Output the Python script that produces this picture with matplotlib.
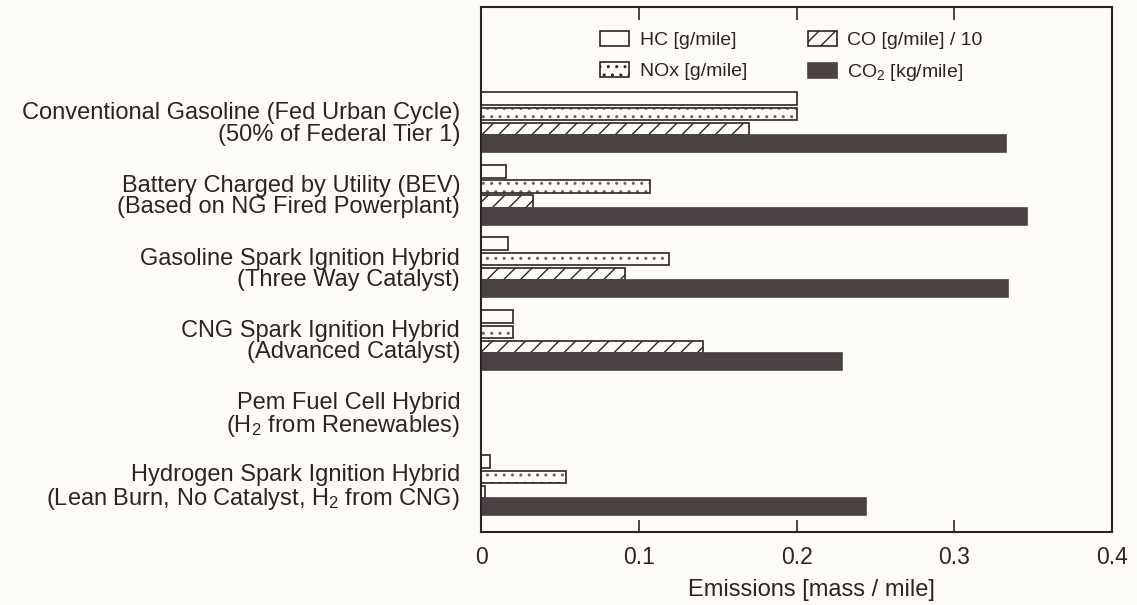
import matplotlib
matplotlib.use("Agg")
import matplotlib.pyplot as plt
from matplotlib.patches import Patch

plt.rcParams['font.family'] = ['Liberation Sans', 'DejaVu Sans']
plt.rcParams['mathtext.fontset'] = 'custom'
plt.rcParams['mathtext.rm'] = 'Liberation Sans'
plt.rcParams['mathtext.it'] = 'Liberation Sans'
plt.rcParams['mathtext.default'] = 'regular'
plt.rcParams['hatch.linewidth'] = 1.0

categories = [
    "Conventional Gasoline (Fed Urban Cycle)\n(50% of Federal Tier 1)",
    "Battery Charged by Utility (BEV)\n(Based on NG Fired Powerplant)",
    "Gasoline Spark Ignition Hybrid\n(Three Way Catalyst)",
    "CNG Spark Ignition Hybrid\n(Advanced Catalyst)",
    "Pem Fuel Cell Hybrid\n(H$_2$ from Renewables)",
    "Hydrogen Spark Ignition Hybrid\n(Lean Burn, No Catalyst, H$_2$ from CNG)",
]
hc = [0.200, 0.016, 0.017, 0.020, 0.0, 0.006]
nox = [0.200, 0.107, 0.119, 0.020, 0.0, 0.054]
co_div10 = [0.170, 0.033, 0.091, 0.141, 0.0, 0.0025]
co2 = [0.333, 0.346, 0.334, 0.229, 0.0, 0.244]
xticks = [0, 0.1, 0.2, 0.3, 0.4]
xtick_labels = ["0", "0.1", "0.2", "0.3", "0.4"]

ink = '#2b2424'
dark = '#4b4343'
dots = '#6a6262'
bg = '#fdfcf9'

fig = plt.figure(figsize=(11.37, 6.05), dpi=100, facecolor=bg)
ax = fig.add_axes([481/1137, 1-532/605, (1112-481)/1137, 525/605])
ax.set_facecolor(bg)

pitch = 72.6
top0 = 85
n = len(categories)
group_tops = [top0 + i * pitch for i in range(n)]

def centers(off):
    return [t + off for t in group_tops]

lw = 1.2
ax.barh(centers(6.5), hc, height=13, color=bg, edgecolor=ink, linewidth=lw)
# stippled NOx: fine grey dots, dark outline on top
ax.barh(centers(22), nox, height=12.5, color=bg, edgecolor=dots, linewidth=0, hatch='..')
ax.barh(centers(22), nox, height=12.5, color='none', edgecolor=ink, linewidth=lw)
ax.barh(centers(37), co_div10, height=12.5, color=bg, edgecolor=ink, linewidth=lw, hatch='//')
ax.barh(centers(51.5), co2, height=17, color=dark, edgecolor=dark, linewidth=lw)

ax.set_ylim(525, 0)
ax.set_xlim(0, 0.4)
ax.set_yticks(centers(30))
ax.set_yticklabels(categories, fontsize=17, color=ink, multialignment='right',
                   linespacing=0.95)
ax.tick_params(axis='y', length=0, pad=15)
ax.set_xticks(xticks)
ax.set_xticklabels(xtick_labels, fontsize=16.5, color=ink)
ax.tick_params(axis='x', direction='in', length=9, width=1.2, color=ink,
               top=True, pad=10)
for s in ax.spines.values():
    s.set_color(ink)
    s.set_linewidth(1.5)

ax.set_xlabel("Emissions [mass / mile]", fontsize=17, color=ink)
ax.xaxis.set_label_coords((811-481)/(1112-481), -(590-532)/525)
ax.xaxis.label.set_va('center')

handles = [
    Patch(facecolor=bg, edgecolor=ink, linewidth=lw, label="HC [g/mile]"),
    Patch(facecolor=bg, edgecolor=ink, linewidth=lw, hatch='..', label="NOx [g/mile]"),
    Patch(facecolor=bg, edgecolor=ink, linewidth=lw, hatch='//', label="CO [g/mile] / 10"),
    Patch(facecolor=dark, edgecolor=dark, linewidth=lw, label="CO$_2$ [kg/mile]"),
]
leg = ax.legend(handles=handles, ncol=2, frameon=False, fontsize=14,
                loc='upper left', bbox_to_anchor=((600-481)/(1112-481), 1-(31-7)/525),
                handlelength=1.5, handleheight=0.8, handletextpad=0.55,
                columnspacing=3.1, labelspacing=0.65, borderpad=0, borderaxespad=0)
for t in leg.get_texts():
    t.set_color(ink)

fig.savefig("out.png", dpi=100, facecolor=bg)
